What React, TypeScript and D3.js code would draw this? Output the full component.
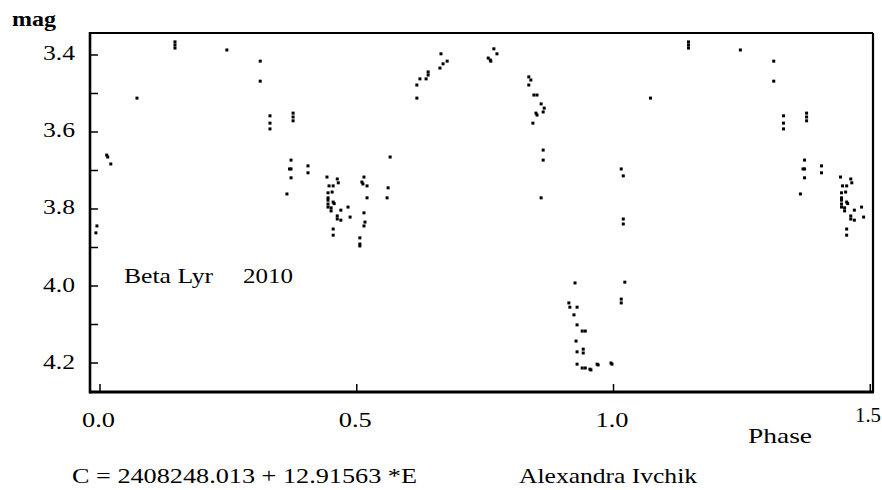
import { scaleLinear } from "d3";

// Beta Lyr 2010, phase / magnitude readings
const nearZero = [
  [-0.006, 3.844], [-0.008, 3.862], [0.013, 3.66], [0.015, 3.665], [0.021, 3.683],
];

const firstMax = [
  [0.072, 3.512], [0.146, 3.366], [0.146, 3.374], [0.146, 3.382], [0.247, 3.387],
  [0.312, 3.416], [0.312, 3.468], [0.331, 3.558], [0.331, 3.577], [0.331, 3.592],
  [0.376, 3.551], [0.376, 3.561], [0.376, 3.571], [0.372, 3.673], [0.369, 3.696],
  [0.372, 3.696], [0.372, 3.719], [0.364, 3.761], [0.405, 3.688], [0.405, 3.706],
];

const secondaryMin = [
  [0.442, 3.717], [0.462, 3.722], [0.464, 3.732], [0.446, 3.74], [0.454, 3.74],
  [0.452, 3.756], [0.444, 3.758], [0.444, 3.771], [0.444, 3.777], [0.454, 3.782],
  [0.456, 3.786], [0.444, 3.787], [0.444, 3.795], [0.45, 3.797], [0.45, 3.805],
  [0.469, 3.803], [0.483, 3.795], [0.462, 3.818], [0.462, 3.826], [0.469, 3.829],
  [0.487, 3.821], [0.454, 3.852], [0.454, 3.868], [0.514, 3.717], [0.51, 3.73],
  [0.512, 3.735], [0.52, 3.74], [0.52, 3.771], [0.561, 3.745], [0.559, 3.771],
  [0.565, 3.665], [0.514, 3.81], [0.516, 3.834], [0.514, 3.844], [0.506, 3.875],
  [0.506, 3.891], [0.506, 3.896],
];

const secondMax = [
  [0.617, 3.512], [0.617, 3.478], [0.623, 3.462], [0.635, 3.462], [0.639, 3.444],
  [0.639, 3.452], [0.662, 3.434], [0.668, 3.423], [0.676, 3.416], [0.664, 3.397],
  [0.767, 3.384], [0.773, 3.397], [0.756, 3.408], [0.76, 3.413], [0.761, 3.416],
  [0.835, 3.457], [0.839, 3.465], [0.835, 3.478], [0.845, 3.504], [0.851, 3.504],
  [0.859, 3.527], [0.865, 3.538], [0.863, 3.548], [0.849, 3.551], [0.851, 3.556],
  [0.843, 3.577], [0.863, 3.647], [0.863, 3.673], [0.859, 3.771],
];

const primaryMin = [
  [0.925, 3.992], [0.913, 4.044], [0.915, 4.055], [0.929, 4.055], [0.923, 4.075],
  [0.929, 4.101], [0.939, 4.117], [0.945, 4.117], [0.927, 4.143], [0.929, 4.171],
  [0.941, 4.164], [0.941, 4.174], [0.929, 4.203], [0.939, 4.213], [0.945, 4.213],
  [0.954, 4.216], [0.956, 4.218], [0.968, 4.203], [0.97, 4.205], [0.995, 4.2],
  [0.997, 4.203], [1.022, 3.99], [1.015, 4.034], [1.015, 4.044], [1.015, 3.696],
  [1.019, 3.714], [1.019, 3.826], [1.019, 3.839],
];

// part of the cycle that is drawn again one period later
const repeatRange = [0.05, 0.5];

const magTicks = [3.4, 3.5, 3.6, 3.7, 3.8, 3.9, 4.0, 4.1, 4.2];
const magLabels = [3.4, 3.6, 3.8, 4.0, 4.2];
const phaseTicks = [0, 0.5, 1.0, 1.5];

const phaseValue = (d) => d[0];
const magValue = (d) => d[1];

const width = 882;
const height = 490;
const plot = { left: 90, right: 873, top: 33, bottom: 392 };
const font = '"Liberation Serif", "Times New Roman", Times, serif';
const dot = 3;
const tickSize = 8;

const App = () => {
  const xScale = scaleLinear().domain([-0.0195, 1.5053]).range([plot.left, plot.right]);
  const yScale = scaleLinear().domain([3.3429, 4.2753]).range([plot.top, plot.bottom]);

  const observed = [...nearZero, ...firstMax, ...secondaryMin, ...secondMax, ...primaryMin];
  const repeated = observed
    .filter((d) => phaseValue(d) >= repeatRange[0] && phaseValue(d) <= repeatRange[1])
    .map((d) => [phaseValue(d) + 1, magValue(d)]);
  const points = [...observed, ...repeated];

  return (
    <svg
      width={width}
      height={height}
      style={{ position: "absolute", left: 0, top: 0, background: "#fff", fontFamily: font }}
    >
      <rect width={width} height={height} fill="#fff" />

      {/* frame */}
      <line x1={plot.left} x2={plot.right} y1={plot.top} y2={plot.top} stroke="#000" strokeWidth={2} />
      <line x1={plot.right} x2={plot.right} y1={plot.top} y2={plot.bottom} stroke="#000" strokeWidth={2.2} />
      <line x1={plot.left} x2={plot.left} y1={plot.top - 1} y2={plot.bottom + 1.5} stroke="#000" strokeWidth={2.6} />
      <line x1={plot.left} x2={plot.right + 1} y1={plot.bottom} y2={plot.bottom} stroke="#000" strokeWidth={2.8} />

      {/* y ticks */}
      {magTicks.map((t) => (
        <line
          key={t}
          x1={plot.left}
          x2={plot.left + tickSize}
          y1={yScale(t)}
          y2={yScale(t)}
          stroke="#000"
          strokeWidth={1.5}
        />
      ))}
      {magLabels.map((t) => (
        <text key={t} x={43} y={yScale(t) + 5.5} fontSize={20} textLength={32} lengthAdjust="spacingAndGlyphs">
          {t.toFixed(1)}
        </text>
      ))}
      <text x={12} y={26} fontSize={20} fontWeight="bold" textLength={44} lengthAdjust="spacingAndGlyphs">
        mag
      </text>

      {/* x ticks */}
      {phaseTicks.map((t) => (
        <line
          key={t}
          x1={xScale(t)}
          x2={xScale(t)}
          y1={plot.bottom}
          y2={plot.bottom - tickSize}
          stroke="#000"
          strokeWidth={1.5}
        />
      ))}
      {phaseTicks.map((t) =>
        t < 1.5 ? (
          <text
            key={t}
            x={xScale(t) - 1.5}
            y={427}
            fontSize={22}
            textAnchor="middle"
            textLength={33}
            lengthAdjust="spacingAndGlyphs"
          >
            {t.toFixed(1)}
          </text>
        ) : (
          <text
            key={t}
            x={width - 1}
            y={422}
            fontSize={22}
            textAnchor="end"
            textLength={26}
            lengthAdjust="spacingAndGlyphs"
          >
            {t.toFixed(1)}
          </text>
        )
      )}
      <text x={748} y={443} fontSize={22} textLength={64} lengthAdjust="spacingAndGlyphs">
        Phase
      </text>

      {/* points */}
      {points.map((d, i) => (
        <rect
          key={i}
          x={xScale(phaseValue(d)) - dot / 2}
          y={yScale(magValue(d)) - dot / 2}
          width={dot}
          height={dot}
          fill="#000"
        />
      ))}

      <text x={124} y={283} fontSize={22} textLength={89} lengthAdjust="spacingAndGlyphs">
        Beta Lyr
      </text>
      <text x={243} y={283} fontSize={22} textLength={50} lengthAdjust="spacingAndGlyphs">
        2010
      </text>

      <text x={72} y={483} fontSize={22} textLength={345} lengthAdjust="spacingAndGlyphs">
        C = 2408248.013 + 12.91563 *E
      </text>
      <text x={519} y={483} fontSize={22} textLength={178} lengthAdjust="spacingAndGlyphs">
        Alexandra Ivchik
      </text>
    </svg>
  );
};

export default App;
